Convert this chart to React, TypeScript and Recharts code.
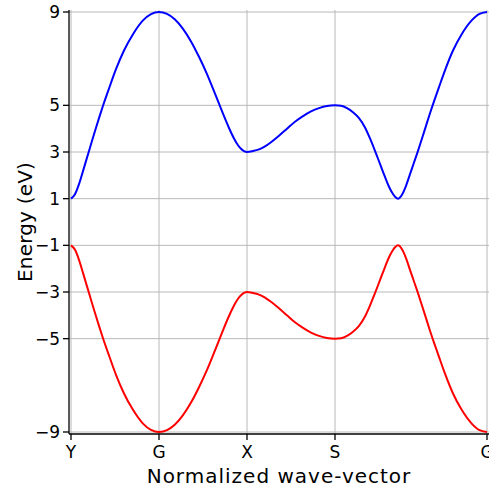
import React from 'react';
import { LineChart, Line, XAxis, YAxis, CartesianGrid } from 'recharts';

// Normalized wave-vector positions along the path Y-G-X-S-(Y)-G
const kPath = [
  0, 4, 8, 12, 16, 20, 24, 28, 32, 38, 45, 53, 62, 72, 80, 88,
  96, 104, 112, 120, 128, 136, 144, 152, 158, 163, 167, 170, 173, 176,
  182, 188, 194, 200, 208, 216, 224, 232, 240, 248, 256, 264,
  270, 276, 282, 288, 294, 299, 304, 309, 314, 318, 321.5, 324.5, 327,
  331, 335, 339, 343, 347, 351, 355, 359, 363, 368, 374, 382, 390.7, 400.7, 408, 416,
];

// Upper (conduction) band, eV
const upperBand = [
  1, 1.19, 1.62, 2.18, 2.76, 3.33, 3.9, 4.45, 4.98, 5.72, 6.55, 7.35, 8.05, 8.64, 8.91, 9,
  8.92, 8.68, 8.28, 7.74, 7.08, 6.34, 5.5, 4.64, 4.03, 3.58, 3.29, 3.14, 3.04, 3,
  3.04, 3.11, 3.24, 3.42, 3.7, 4.0, 4.3, 4.54, 4.74, 4.88, 4.97, 5,
  4.98, 4.88, 4.7, 4.45, 4.05, 3.58, 3.05, 2.49, 1.93, 1.51, 1.23, 1.06, 1,
  1.17, 1.55, 2.05, 2.55, 3.05, 3.58, 4.12, 4.66, 5.17, 5.78, 6.5, 7.35, 8.05, 8.64, 8.91, 9,
];

// Lower (valence) band, eV
const lowerBand = [
  -1, -1.19, -1.62, -2.18, -2.76, -3.33, -3.9, -4.45, -4.98, -5.72, -6.55, -7.35, -8.05, -8.64, -8.91, -9,
  -8.92, -8.68, -8.28, -7.74, -7.08, -6.34, -5.5, -4.64, -4.03, -3.58, -3.29, -3.14, -3.04, -3,
  -3.04, -3.11, -3.24, -3.42, -3.7, -4.0, -4.3, -4.54, -4.74, -4.88, -4.97, -5,
  -4.98, -4.88, -4.7, -4.45, -4.05, -3.58, -3.05, -2.49, -1.93, -1.51, -1.23, -1.06, -1,
  -1.17, -1.55, -2.05, -2.55, -3.05, -3.58, -4.12, -4.66, -5.17, -5.78, -6.5, -7.35, -8.05, -8.64, -8.91, -9,
];

const kTicks = [0, 88, 176, 264, 416];
const kTickLabels = ['Y', 'G', 'X', 'S', 'G'];
const energyTicks = [9, 5, 3, 1, -1, -3, -5, -9];

const data = kPath.map((k, i) => ({ k, upper: upperBand[i], lower: lowerBand[i] }));

const FONT = 'DejaVu Sans';

const fmtEnergy = (v: number) => (v < 0 ? `\u2212${Math.abs(v)}` : `${v}`);
const fmtK = (v: number) => {
  const i = kTicks.indexOf(v);
  return i >= 0 ? kTickLabels[i] : '';
};

const XTitle = (props: any) => {
  const vb = props.viewBox || { x: 69, y: 434, width: 420, height: 59 };
  return (
    <text
      x={vb.x + vb.width / 2}
      y={vb.y + 49}
      textAnchor="middle"
      fill="#000"
      fontSize={20}
      fontFamily={FONT}
      letterSpacing={1}
    >
      Normalized wave-vector
    </text>
  );
};

const YTitle = (props: any) => {
  const vb = props.viewBox || { x: 0, y: 10, width: 69, height: 424 };
  const x = vb.x + 31.5;
  const y = vb.y + vb.height / 2;
  return (
    <text
      x={x}
      y={y}
      transform={`rotate(-90, ${x}, ${y})`}
      textAnchor="middle"
      fill="#000"
      fontSize={20}
      fontFamily={FONT}
      letterSpacing={0.2}
    >
      Energy (eV)
    </text>
  );
};

export default function App() {
  return (
    <div style={{ position: 'absolute', left: 0, top: 0 }}>
      <LineChart
        width={489}
        height={493}
        data={data}
        margin={{ top: 10, right: 0, bottom: 0, left: 0 }}
      >
        <CartesianGrid
          stroke="#b8b8b8"
          strokeWidth={1}
          horizontalValues={energyTicks}
          verticalValues={kTicks}
        />
        <XAxis
          dataKey="k"
          type="number"
          domain={[0, 416]}
          ticks={kTicks}
          interval={0}
          tickFormatter={fmtK}
          padding={{ left: 2, right: 2 }}
          height={59}
          axisLine={{ stroke: '#000', strokeWidth: 1.3 }}
          tickLine={{ stroke: '#000', strokeWidth: 1.3 }}
          tickSize={6}
          tickMargin={6}
          tick={{ fill: '#000', fontSize: 17, fontFamily: FONT }}
          label={<XTitle />}
        />
        <XAxis
          xAxisId="top"
          orientation="top"
          dataKey="k"
          type="number"
          domain={[0, 416]}
          height={0}
          tick={false}
          tickLine={false}
          axisLine={{ stroke: '#000', strokeWidth: 1.3 }}
        />
        <YAxis
          type="number"
          domain={[-9, 9]}
          ticks={energyTicks}
          interval={0}
          tickFormatter={fmtEnergy}
          padding={{ top: 2, bottom: 2 }}
          width={69}
          axisLine={{ stroke: '#000', strokeWidth: 1.3 }}
          tickLine={{ stroke: '#000', strokeWidth: 1.3 }}
          tickSize={6}
          tickMargin={3}
          tick={{ fill: '#000', fontSize: 17, fontFamily: FONT }}
          label={<YTitle />}
        />
        <Line
          dataKey="upper"
          type="monotone"
          stroke="#0000ff"
          strokeWidth={2}
          dot={false}
          isAnimationActive={false}
        />
        <Line
          dataKey="lower"
          type="monotone"
          stroke="#ff0000"
          strokeWidth={2}
          dot={false}
          isAnimationActive={false}
        />
      </LineChart>
    </div>
  );
}
